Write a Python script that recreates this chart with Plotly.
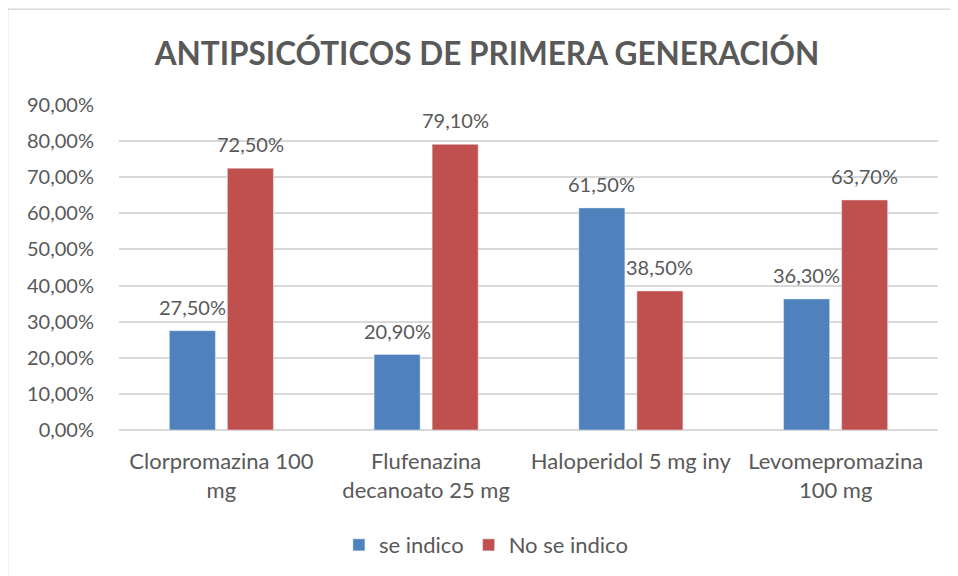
import plotly.graph_objects as go

categories = [
    "Clorpromazina 100<br>mg",
    "Flufenazina<br>decanoato 25 mg",
    "Haloperidol 5 mg iny",
    "Levomepromazina<br>100 mg",
]
se_indico = [0.275, 0.209, 0.615, 0.363]
no_se_indico = [0.725, 0.791, 0.385, 0.637]
y_ticks = [0, 0.1, 0.2, 0.3, 0.4, 0.5, 0.6, 0.7, 0.8, 0.9]

FONT = "Lato, Calibri, Arial, sans-serif"
GREY = "#595959"

fig = go.Figure()
fig.add_trace(go.Bar(name="se indico", x=categories, y=se_indico, marker_color="#4F81BD"))
fig.add_trace(go.Bar(name="No se indico", x=categories, y=no_se_indico, marker_color="#C0504D"))

# value labels above each bar (offset to the bar inside its group)
annotations = []
for vals, shift in ((se_indico, -29), (no_se_indico, 29)):
    for cat, v in zip(categories, vals):
        annotations.append(dict(
            x=cat, y=v, xref="x", yref="y", xshift=shift, yshift=10,
            text=f"{v * 100:.2f}%".replace(".", ","),
            showarrow=False, yanchor="bottom",
            font=dict(size=20, color=GREY, family=FONT),
        ))

fig.update_layout(
    width=958, height=576,
    separators=",.",
    paper_bgcolor="white", plot_bgcolor="white",
    font=dict(family=FONT, color=GREY, size=20),
    title=dict(
        text="<b>ANTIPSICÓTICOS DE PRIMERA GENERACIÓN</b>",
        x=0.5, xanchor="center", y=0.92, yanchor="middle",
        font=dict(size=31.5, color=GREY, family=FONT),
    ),
    margin=dict(l=111, r=28, t=97, b=154),
    barmode="group", bargap=0.433, bargroupgap=0.207,
    showlegend=True,
    legend=dict(
        orientation="h", x=0.448, xanchor="center",
        y=-0.354, yanchor="middle", itemwidth=30,
        font=dict(size=22, color=GREY, family=FONT),
    ),
    xaxis=dict(showline=False, ticks="", ticklabelstandoff=16,
               tickfont=dict(size=22, color=GREY)),
    yaxis=dict(
        range=[0, 0.9], tickvals=y_ticks, tickformat=".2%",
        showgrid=True, gridcolor="#D9D9D9", gridwidth=1.5,
        zeroline=True, zerolinecolor="#D9D9D9", zerolinewidth=1.5,
        showline=False, ticks="", ticklabelstandoff=24,
        tickfont=dict(size=20, color=GREY),
    ),
    annotations=annotations,
    shapes=[dict(
        type="rect", xref="paper", yref="paper",
        x0=-0.136, x1=1.1, y0=-0.6, y1=1.295,
        line=dict(color="#D9D9D9", width=1.5), layer="below",
    )],
)

fig.write_html("out.html")
